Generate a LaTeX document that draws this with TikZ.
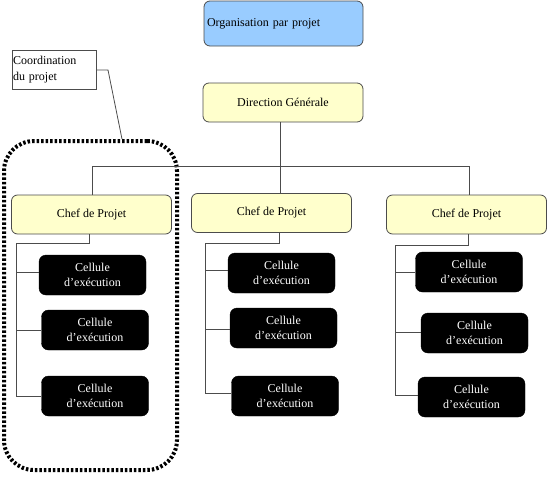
\documentclass[tikz,border=0pt]{standalone}
\usepackage{fontspec}
\setmainfont{Liberation Serif}[Ligatures=ResetAll]
\begin{document}
\begin{tikzpicture}[x=1pt,y=-1pt,
  font=\fontsize{12}{15}\selectfont,
  yellowbox/.style={draw=black!70, line width=0.8pt, fill={rgb,255:red,255;green,255;blue,204}, rounded corners=6pt, minimum width=160pt, minimum height=39pt, inner sep=0pt},
  cellbox/.style={draw=black, fill=black, text=white, rounded corners=7pt, minimum width=107pt, minimum height=40pt, inner sep=0pt, align=center},
  link/.style={draw=black!70, line width=0.8pt},
  frame/.style={draw=black, line width=4pt, dash pattern=on 2.5pt off 2pt, rounded corners=30pt, inner sep=0pt}
]
\useasboundingbox (0,0) rectangle (549,482);

% top title
\node[draw=black!70, line width=0.8pt, fill={rgb,255:red,153;green,204;blue,255}, rounded corners=6pt,
      minimum width=159pt, minimum height=45pt, text width=153pt, align=left, inner sep=3pt] (org) at (283.5,23.5) {Organisation par projet};

% coordination label
\node[draw=black!70, line width=0.8pt, fill=white, minimum width=84pt, minimum height=39pt,
      text width=82pt, align=left, inner sep=1pt, font=\fontsize{12}{16}\selectfont] (coord) at (54,69.5) {Coordination\\du projet};

% dashed frame
\node[frame, minimum width=173pt, minimum height=329pt] (F) at (90.5,305.5) {};
\coordinate (fc) at (122,139);
\coordinate (ck) at (108,70);
\draw[link] (coord.east |- ck) -- (ck) -- (fc);

% direction
\node[yellowbox] (dg) at (283,102.5) {Direction Générale};

% chefs
\node[yellowbox] (c1) at (91.5,214.5) {Chef de Projet};
\node[yellowbox] (c2) at (271.5,213) {Chef de Projet};
\node[yellowbox] (c3) at (466.5,214.5) {Chef de Projet};

% tree junctions
\coordinate (j0) at (280,166);
\coordinate (jl) at (92,166);
\coordinate (jr) at (469,166);
\draw[link] (dg.south -| j0) -- (c2.north -| j0);
\draw[link] (jl) -- (jr);
\draw[link] (jl) -- (c1.north -| jl);
\draw[link] (jr) -- (c3.north -| jr);

% cells column 1
\node[cellbox] (a1) at (92.5,275) {Cellule\\d'exécution};
\node[cellbox] (a2) at (95,330) {Cellule\\d'exécution};
\node[cellbox] (a3) at (95,396) {Cellule\\d'exécution};
% cells column 2
\node[cellbox] (b1) at (281.5,273) {Cellule\\d'exécution};
\node[cellbox] (b2) at (283.5,328) {Cellule\\d'exécution};
\node[cellbox] (b3) at (285,396) {Cellule\\d'exécution};
% cells column 3
\node[cellbox] (d1) at (469,272) {Cellule\\d'exécution};
\node[cellbox] (d2) at (474.5,333) {Cellule\\d'exécution};
\node[cellbox] (d3) at (471.5,397) {Cellule\\d'exécution};

% column 1 connectors
\coordinate (k1) at (89,243);
\coordinate (v1) at (16,243);
\draw[link] (c1.south -| k1) -- (k1) -- (v1) -- (v1 |- a3.west) -- (a3.west);
\draw[link] (v1 |- 0,272) -- (a1.west |- 0,272);
\draw[link] (v1 |- a2.west) -- (a2.west);

% column 2 connectors
\coordinate (k2) at (279,243);
\coordinate (v2) at (205,243);
\draw[link] (c2.south -| k2) -- (k2) -- (v2) -- (v2 |- 0,393) -- (b3.west |- 0,393);
\draw[link] (v2 |- 0,270) -- (b1.west |- 0,270);
\draw[link] (v2 |- 0,329) -- (b2.west |- 0,329);

% column 3 connectors
\coordinate (k3) at (468,245);
\coordinate (v3) at (395,245);
\draw[link] (c3.south -| k3) -- (k3) -- (v3) -- (v3 |- 0,395) -- (d3.west |- 0,395);
\draw[link] (v3 |- d1.west) -- (d1.west);
\draw[link] (v3 |- 0,332) -- (d2.west |- 0,332);
\end{tikzpicture}
\end{document}
